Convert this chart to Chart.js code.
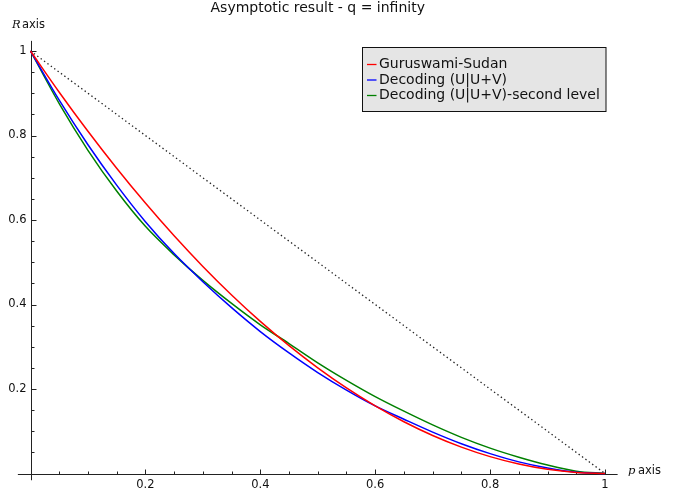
<!DOCTYPE html>
<html>
<head>
<meta charset="utf-8">
<script src="https://cdn.jsdelivr.net/npm/chart.js@4.4.1/dist/chart.umd.min.js"></script>
<style>
  html, body { margin: 0; padding: 0; background: #fff; }
  #wrap { width: 684px; height: 495px; }
</style>
</head>
<body>
<div id="wrap"><canvas id="chart" width="684" height="495"></canvas></div>
<script>
// p axis samples
const pValues = [0, 0.05, 0.1, 0.15, 0.2, 0.25, 0.3, 0.35, 0.4, 0.45, 0.5,
                 0.55, 0.6, 0.65, 0.7, 0.75, 0.8, 0.85, 0.9, 0.95, 1];
// R axis values
const gsValues   = [1, 0.9025, 0.81, 0.7225, 0.64, 0.5625, 0.49, 0.4225, 0.36, 0.3025, 0.25,
                    0.2025, 0.16, 0.1225, 0.09, 0.0625, 0.04, 0.0225, 0.01, 0.0025, 0];
const uuvValues  = [1, 0.8835, 0.778, 0.6825, 0.596, 0.5205, 0.454, 0.3925, 0.336, 0.2855, 0.239,
                    0.1975, 0.16, 0.1285, 0.098, 0.0705, 0.047, 0.0275, 0.013, 0.003, 0];
const uuv2Values = [1, 0.8755, 0.765, 0.6685, 0.585, 0.5175, 0.457, 0.4025, 0.352, 0.3075, 0.262,
                    0.2205, 0.182, 0.1475, 0.115, 0.0855, 0.06, 0.0385, 0.02, 0.0055, 0];
// dotted reference line
const boundP = [0, 1];
const boundR = [1, 0];

const seriesNames  = ['Guruswami-Sudan', 'Decoding (U|U+V)', 'Decoding (U|U+V)-second level'];
const seriesColors = ['#ff0000', '#0000ff', '#008000'];
const xTickValues = [0.2, 0.4, 0.6, 0.8, 1];
const xTickLabels = ['0.2', '0.4', '0.6', '0.8', '1'];
const yTickValues = [0.2, 0.4, 0.6, 0.8, 1];
const yTickLabels = ['0.2', '0.4', '0.6', '0.8', '1'];

const FONT = '"DejaVu Sans", sans-serif';

function toPoints(xs, ys) {
    return xs.map((x, i) => ({ x: x, y: ys[i] }));
}

// axes through the origin, inward ticks, axis labels and framed legend
const sageAxes = {
    id: 'sageAxes',
    beforeDatasetsDraw(chart) {
        const ctx = chart.ctx;
        const xs = chart.scales.x, ys = chart.scales.y;
        const x0 = Math.round(xs.getPixelForValue(0)) + 0.5;
        const y0 = Math.round(ys.getPixelForValue(0)) + 0.5;
        ctx.save();
        ctx.strokeStyle = '#222';
        ctx.lineWidth = 1;
        ctx.beginPath();
        ctx.moveTo(xs.getPixelForValue(-0.022), y0);
        ctx.lineTo(xs.getPixelForValue(1.022), y0);
        ctx.moveTo(x0, ys.getPixelForValue(1.024));
        ctx.lineTo(x0, ys.getPixelForValue(-0.016));
        ctx.stroke();

        // tick marks every 0.05, longer on the labelled ones
        ctx.beginPath();
        for (let k = 1; k <= 20; k++) {
            const v = k * 0.05;
            const major = k % 4 === 0;
            const len = major ? 5 : 3;
            const px = Math.round(xs.getPixelForValue(v)) + 0.5;
            ctx.moveTo(px, y0);
            ctx.lineTo(px, y0 - len);
            const py = Math.round(ys.getPixelForValue(v)) + 0.5;
            ctx.moveTo(x0, py);
            ctx.lineTo(x0 + len, py);
        }
        ctx.stroke();

        ctx.fillStyle = '#111';
        ctx.font = '11.5px ' + FONT;
        ctx.textBaseline = 'middle';
        ctx.textAlign = 'center';
        xTickValues.forEach((v, i) => {
            ctx.fillText(xTickLabels[i], xs.getPixelForValue(v), y0 + 11);
        });
        ctx.textAlign = 'right';
        yTickValues.forEach((v, i) => {
            ctx.fillText(yTickLabels[i], x0 - 5, ys.getPixelForValue(v));
        });

        // axis names
        ctx.textAlign = 'left';
        ctx.textBaseline = 'alphabetic';
        ctx.font = 'italic 11.5px "DejaVu Serif", serif';
        ctx.fillText('R', 12, 28);
        ctx.fillText('p', 628, 474);
        ctx.font = '11.5px ' + FONT;
        ctx.fillText('axis', 22, 28);
        ctx.fillText('axis', 638, 474);
        ctx.restore();
    },
    afterDraw(chart) {
        const ctx = chart.ctx;
        const right = chart.chartArea.right;
        const boxW = 243.5, boxH = 64;
        const bx = Math.round(right - boxW) + 0.5, by = 47.5;
        ctx.save();
        ctx.fillStyle = '#e5e5e5';
        ctx.fillRect(bx, by, boxW, boxH);
        ctx.strokeStyle = '#111';
        ctx.lineWidth = 1;
        ctx.strokeRect(bx, by, boxW, boxH);
        ctx.font = '14px ' + FONT;
        ctx.textBaseline = 'middle';
        ctx.textAlign = 'left';
        seriesNames.forEach((name, i) => {
            const ry = 64.5 + i * 15.5;
            ctx.strokeStyle = seriesColors[i];
            ctx.lineWidth = 1.3;
            ctx.beginPath();
            ctx.moveTo(bx + 4.5, ry);
            ctx.lineTo(bx + 14, ry);
            ctx.stroke();
            ctx.fillStyle = '#111';
            ctx.fillText(name, bx + 16.5, ry);
        });
        ctx.restore();
    }
};

const curveStyle = {
    showLine: true,
    pointRadius: 0,
    borderWidth: 1.5,
    cubicInterpolationMode: 'monotone',
    fill: false,
    clip: 4
};

new Chart(document.getElementById('chart'), {
    type: 'scatter',
    data: {
        datasets: [
            Object.assign({ label: seriesNames[0], data: toPoints(pValues, gsValues), borderColor: seriesColors[0] }, curveStyle),
            Object.assign({ label: seriesNames[1], data: toPoints(pValues, uuvValues), borderColor: seriesColors[1] }, curveStyle),
            Object.assign({ label: seriesNames[2], data: toPoints(pValues, uuv2Values), borderColor: seriesColors[2] }, curveStyle),
            {
                label: 'bound',
                data: toPoints(boundP, boundR),
                showLine: true,
                pointRadius: 0,
                borderColor: '#222',
                borderWidth: 1.3,
                borderDash: [1.4, 2.8],
                fill: false,
                clip: 4
            }
        ]
    },
    options: {
        responsive: false,
        animation: false,
        devicePixelRatio: 1,
        layout: { padding: { left: 30.5, right: 79, top: 0, bottom: 21.5 } },
        scales: {
            x: { type: 'linear', display: false, min: 0, max: 1 },
            y: { type: 'linear', display: false, min: 0, max: 1 }
        },
        plugins: {
            legend: { display: false },
            tooltip: { enabled: false },
            title: {
                display: true,
                fullSize: false,
                text: 'Asymptotic result - q = infinity',
                color: '#111',
                font: { family: FONT, size: 14, weight: 'normal' },
                padding: { top: 0, bottom: 34.2 }
            }
        }
    },
    plugins: [sageAxes]
});
</script>
</body>
</html>
